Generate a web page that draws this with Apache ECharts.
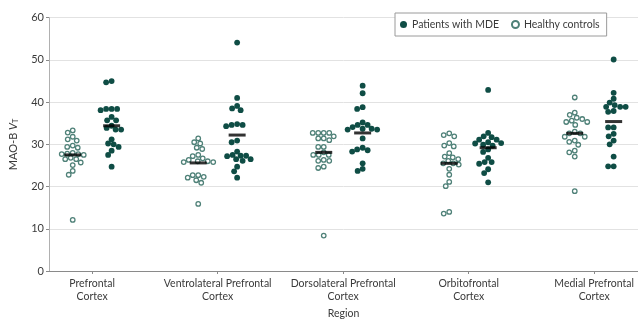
<!DOCTYPE html>
<html>
<head>
<meta charset="utf-8">
<script src="https://cdn.jsdelivr.net/npm/echarts@6/dist/echarts.min.js"></script>
<style>
  html, body { margin: 0; padding: 0; background: #fff; }
  #chart { width: 638px; height: 324px; }
</style>
</head>
<body>
<div id="chart"></div>
<script>
// Brain regions on the x axis
const regions = [
  'Prefrontal\nCortex',
  'Ventrolateral Prefrontal\nCortex',
  'Dorsolateral Prefrontal\nCortex',
  'Orbitofrontal\nCortex',
  'Medial Prefrontal\nCortex'
];

// MAO-B VT per participant, healthy controls
const hcPrefrontal = [33.3, 32.8, 31.8, 31.2, 30.9, 29.7, 29.4, 29.2, 28.0, 27.8, 27.7, 27.5, 27.7, 26.8, 26.5, 26.5, 25.7, 25.1, 23.7, 22.8, 12.1];
const hcVentrolateral = [31.4, 30.2, 30.5, 29.2, 28.9, 27.5, 27.2, 26.3, 26.0, 25.8, 26.0, 25.8, 26.7, 22.3, 22.1, 22.7, 22.7, 21.5, 20.9, 15.9];
const hcDorsolateral = [32.7, 32.7, 32.7, 32.7, 31.9, 31.4, 31.4, 31.0, 29.4, 29.4, 28.1, 27.5, 27.5, 27.5, 26.3, 26.1, 26.1, 24.7, 24.4, 8.4];
const hcOrbitofrontal = [32.2, 32.6, 31.9, 30.3, 29.5, 29.7, 27.9, 26.9, 27.1, 26.1, 25.5, 25.2, 25.5, 26.5, 24.2, 22.8, 21.1, 20.1, 14.0, 13.6];
const hcMedial = [41.1, 37.5, 37.0, 36.3, 36.0, 35.6, 35.3, 35.3, 34.6, 33.0, 32.6, 32.6, 31.8, 31.8, 30.9, 30.6, 29.9, 28.5, 28.1, 27.1, 18.9];

// MAO-B VT per participant, patients with MDE
const mdePrefrontal = [45.0, 44.7, 38.4, 38.4, 38.4, 38.1, 36.5, 35.7, 35.7, 33.9, 34.4, 33.5, 33.5, 31.2, 30.0, 29.4, 30.2, 28.5, 27.5, 24.7];
const mdeVentrolateral = [54.1, 41.0, 39.1, 38.5, 38.1, 34.8, 34.3, 34.6, 34.6, 30.9, 30.5, 28.3, 27.3, 27.5, 27.3, 27.2, 26.5, 26.1, 26.5, 24.7, 23.6, 22.1];
const mdeDorsolateral = [43.9, 42.1, 38.8, 38.4, 35.2, 34.6, 34.6, 34.1, 33.7, 33.5, 33.5, 33.7, 31.4, 28.6, 28.3, 28.8, 29.2, 25.5, 24.2, 23.7];
const mdeOrbitofrontal = [42.9, 32.7, 31.9, 31.7, 30.3, 30.5, 31.1, 31.1, 29.9, 29.7, 30.2, 28.8, 28.2, 26.8, 25.8, 25.4, 25.8, 24.1, 23.2, 21.0];
const mdeMedial = [50.1, 42.2, 40.8, 39.9, 39.3, 38.9, 38.9, 38.9, 37.7, 37.9, 34.0, 34.0, 32.5, 31.9, 30.9, 30.0, 27.1, 24.8, 24.8];

// Group means (horizontal bars)
const hcMeans = [27.5, 25.6, 28.1, 25.5, 32.6];
const mdeMeans = [34.4, 32.2, 32.7, 29.2, 35.4];

// Y axis ticks
const yTicks = [0, 10, 20, 30, 40, 50, 60];

const hcGroups = [hcPrefrontal, hcVentrolateral, hcDorsolateral, hcOrbitofrontal, hcMedial];
const mdeGroups = [mdePrefrontal, mdeVentrolateral, mdeDorsolateral, mdeOrbitofrontal, mdeMedial];

const FONT = 'Lato';
const TEXT = '#3a3a3a';
const DARK = '#0f4d45';
const LIGHT = '#4f8178';
const SIDE = 0.155;   // half distance between the two groups of a region, in axis units
const DOT = 5.4;      // minimum centre distance between neighbouring dots, px

const chart = echarts.init(document.getElementById('chart'), null, { renderer: 'canvas' });

const baseOption = {
  animation: false,
  grid: { left: 45, right: -12, top: 17.7, bottom: 48, containLabel: false },
  xAxis: {
    type: 'value',
    min: -0.344,
    max: 4.349,
    name: 'Region',
    nameLocation: 'middle',
    nameGap: 37,
    nameTextStyle: { fontFamily: FONT, fontSize: 10.5, color: TEXT },
    splitLine: { show: false },
    axisLine: { show: true, onZero: false, lineStyle: { color: '#8a8a8a', width: 1 } },
    axisTick: { show: true, customValues: [0, 1, 2, 3, 4], length: 3, inside: false, lineStyle: { color: '#8a8a8a' } },
    axisLabel: {
      customValues: [0, 1, 2, 3, 4],
      formatter: v => regions[Math.round(v)],
      fontFamily: FONT, fontSize: 10.5, color: TEXT, lineHeight: 13, margin: 6
    }
  },
  yAxis: {
    type: 'value',
    min: yTicks[0],
    max: yTicks[yTicks.length - 1],
    interval: 10,
    name: 'MAO-B {i|V}{s|T}',
    nameLocation: 'middle',
    nameGap: 29,
    nameRotate: 90,
    nameTextStyle: {
      fontFamily: FONT, fontSize: 11, color: TEXT,
      rich: {
        i: { fontFamily: FONT, fontSize: 11, fontStyle: 'italic', color: TEXT },
        s: { fontFamily: FONT, fontSize: 7.5, color: TEXT, padding: [5, 0, 0, 0] }
      }
    },
    axisLine: { show: true, onZero: false, lineStyle: { color: '#b0b0b0', width: 1 } },
    axisTick: { show: true, length: 3, lineStyle: { color: '#8a8a8a' } },
    axisLabel: { fontFamily: FONT, fontSize: 11, color: TEXT, margin: 5 },
    splitLine: { show: true, lineStyle: { color: '#e2e2e2', width: 1 } }
  },
  legend: {
    left: 395,
    top: 13,
    orient: 'horizontal',
    data: ['Patients with MDE', 'Healthy controls'],
    itemWidth: 7,
    itemHeight: 7,
    itemGap: 12,
    padding: [6, 7, 6, 5],
    borderColor: '#9a9a9a',
    borderWidth: 1,
    backgroundColor: '#fff',
    textStyle: { fontFamily: FONT, fontSize: 10.5, color: TEXT },
    icon: 'circle'
  },
  series: []
};

chart.setOption(baseOption);

// Pixel scale of each axis, read back from the laid-out grid
const o = chart.convertToPixel({ gridIndex: 0 }, [0, 0]);
const p = chart.convertToPixel({ gridIndex: 0 }, [1, 10]);
const pxPerX = Math.abs(p[0] - o[0]);
const pxPerY = Math.abs(p[1] - o[1]) / 10;

// Beeswarm: each dot takes the horizontal spot closest to its group centre
// that does not overlap the dots already placed.
function swarm(values, centre) {
  const order = values.map((v, i) => i).sort((a, b) => values[b] - values[a]);
  const placed = [];
  const out = [];
  order.forEach(i => {
    const py = values[i] * pxPerY;
    let best = 0;
    for (let k = 0; k < 400; k++) {
      const step = Math.ceil(k / 2) * 0.5 * (k % 2 === 0 ? 1 : -1);
      const ok = placed.every(q => {
        const dx = q[0] - step, dy = q[1] - py;
        return dx * dx + dy * dy >= DOT * DOT;
      });
      if (ok) { best = step; break; }
    }
    placed.push([best, py]);
    out.push([centre + best / pxPerX, values[i]]);
  });
  return out;
}

const hcData = [];
const mdeData = [];
hcGroups.forEach((g, r) => swarm(g, r - SIDE).forEach(d => hcData.push(d)));
mdeGroups.forEach((g, r) => swarm(g, r + SIDE).forEach(d => mdeData.push(d)));

const meanData = [];
hcMeans.forEach((m, r) => meanData.push([r - SIDE, m]));
mdeMeans.forEach((m, r) => meanData.push([r + SIDE, m]));

chart.setOption({
  series: [
    {
      name: 'Patients with MDE',
      type: 'scatter',
      symbol: 'circle',
      symbolSize: 5.8,
      itemStyle: { color: DARK, opacity: 1 },
      data: mdeData,
      z: 3
    },
    {
      name: 'Healthy controls',
      type: 'scatter',
      symbol: 'circle',
      symbolSize: 4.5,
      itemStyle: { color: '#fff', borderColor: LIGHT, borderWidth: 1.3, opacity: 1 },
      data: hcData,
      z: 3
    },
    {
      name: 'mean',
      type: 'scatter',
      symbol: 'rect',
      symbolSize: [17, 3],
      itemStyle: { color: '#000' },
      data: meanData,
      z: 5,
      silent: true
    }
  ]
});
</script>
</body>
</html>
